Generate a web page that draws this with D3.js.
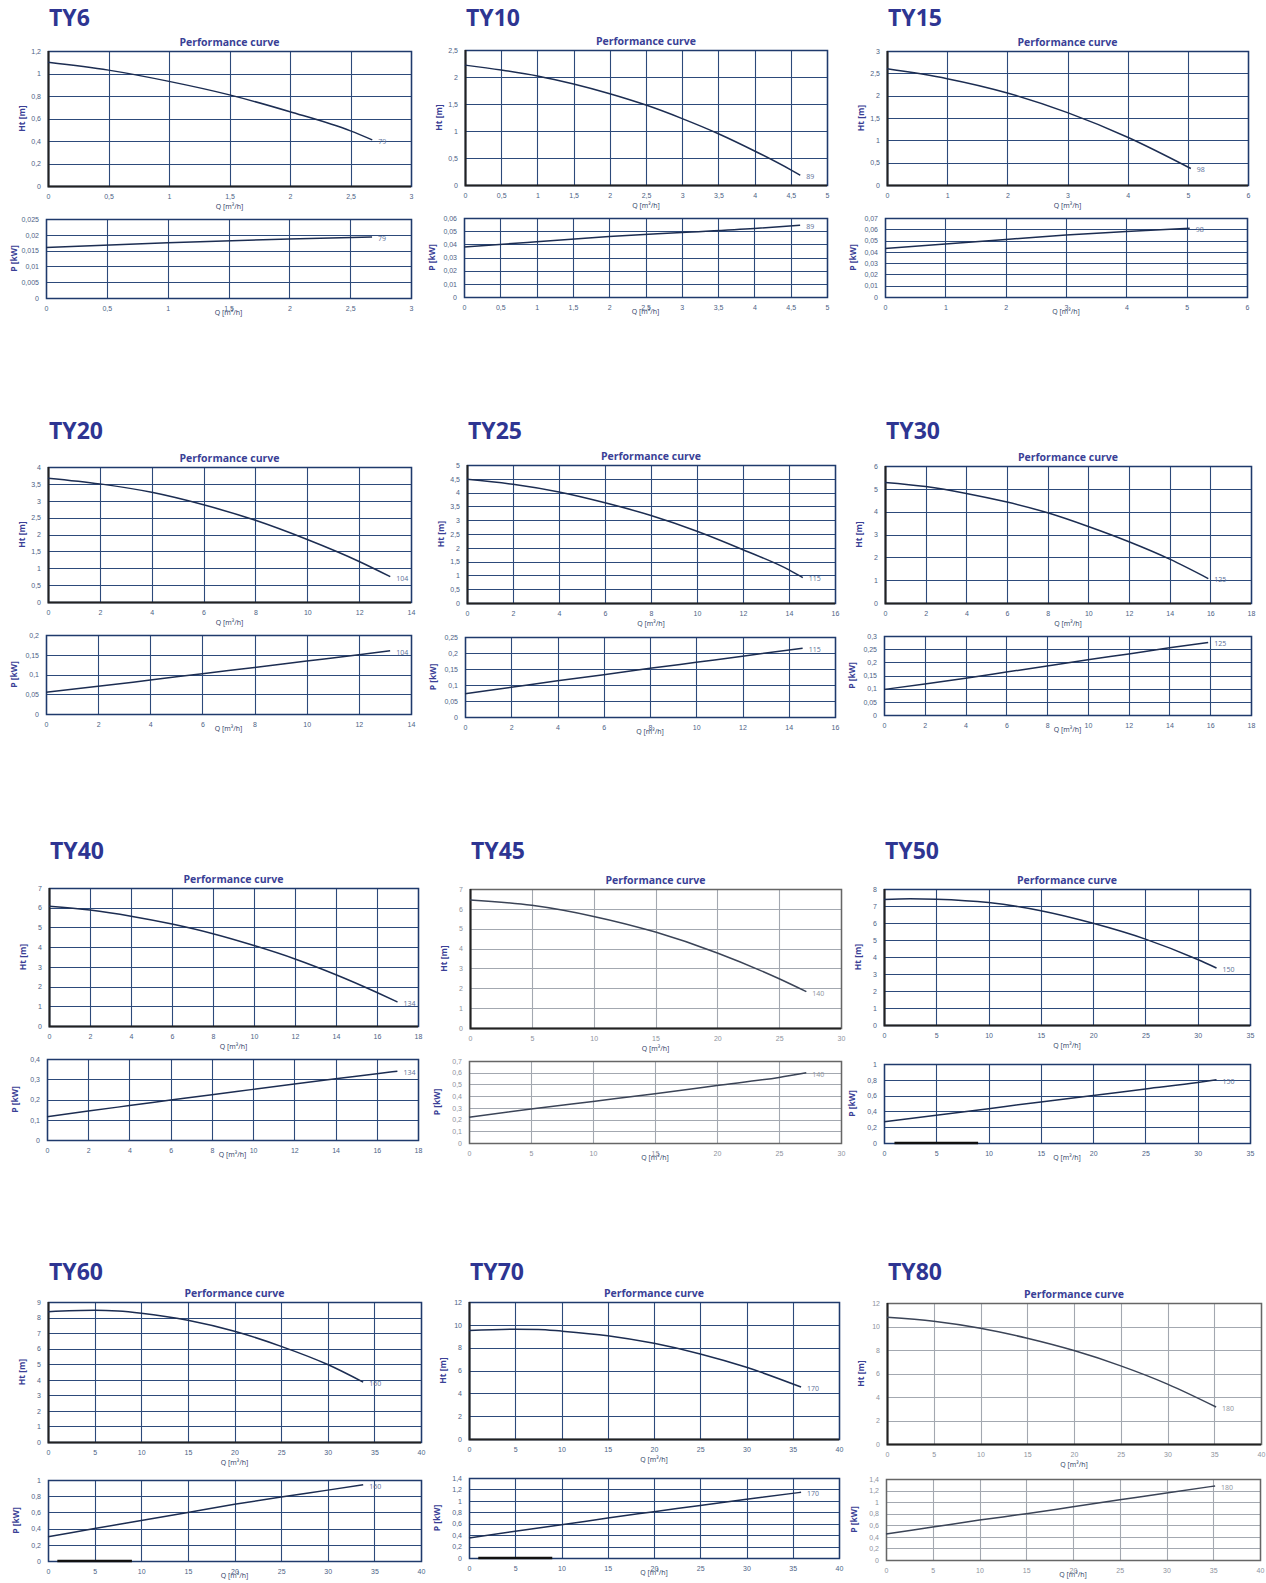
<!DOCTYPE html>
<meta charset="utf-8">
<style>
body { margin: 0; background: white; }
svg { display: block; font-family: "Open Sans", "DejaVu Sans", sans-serif; }
.model { font-size: 23px; font-weight: bold; fill: #2e3592; }
.ptitle { font-size: 10.5px; font-weight: bold; fill: #3a3f96; }
.ylab { font-size: 8.5px; font-weight: bold; fill: #3a3f96; }
.tick text { font-size: 7px; fill: #4d5f85; }
.grid line { stroke: #2d4a7a; stroke-width: 1.1px; }
.frame { fill: none; stroke: #1f3a6c; stroke-width: 1.5px; }
.curve { fill: none; stroke: #1c2d52; stroke-width: 1.5px; }
.endlab { font-size: 7px; fill: #5b6f98; }
.qlab { font-size: 7px; fill: #2b3a5f; }
.faded .grid line { stroke: #a3a8b0; }
.faded .frame { stroke: #666; }
.faded .tick text, .faded .endlab { fill: #8d929c; }
.faded .curve { stroke: #3b4457; }
</style>
<svg width="1266" height="1583"></svg>
<script src="https://d3js.org/d3.v7.min.js"></script>
<script>
// pump models and axis ranges
var models = ["TY6", "TY10", "TY15", "TY20", "TY25", "TY30", "TY40", "TY45", "TY50", "TY60", "TY70", "TY80"];
var qMax  = [3, 5, 6, 14, 16, 18, 18, 30, 35, 40, 40, 40];
var qStep = [0.5, 0.5, 1, 2, 2, 2, 2, 5, 5, 5, 5, 5];
var hMax  = [1.2, 2.5, 3, 4, 5, 6, 7, 7, 8, 9, 12, 12];
var hStep = [0.2, 0.5, 0.5, 0.5, 0.5, 1, 1, 1, 1, 1, 2, 2];
var pMax  = [0.025, 0.06, 0.07, 0.2, 0.25, 0.3, 0.4, 0.7, 1, 1, 1.4, 1.4];
var pStep = [0.005, 0.01, 0.01, 0.05, 0.05, 0.05, 0.1, 0.1, 0.2, 0.2, 0.2, 0.2];
var curveLabels = ["79", "89", "98", "104", "115", "125", "134", "140", "150", "160", "170", "180"];

// head curves [Q, Ht]
var headCurves = [
  [[0,1.1],[0.5,1.03],[1,0.93],[1.5,0.81],[2,0.66],[2.5,0.49],[2.68,0.41]],
  [[0,2.22],[0.5,2.13],[1,2.02],[1.5,1.87],[2,1.69],[2.5,1.48],[3,1.23],[3.5,0.95],[4,0.63],[4.5,0.28],[4.63,0.18]],
  [[0,2.6],[1,2.38],[2,2.06],[3,1.62],[4,1.07],[5.05,0.37]],
  [[0,3.67],[2,3.5],[4,3.25],[6,2.88],[8,2.42],[10,1.85],[12,1.2],[13.2,0.75]],
  [[0,4.48],[2,4.3],[4,4.02],[6,3.63],[8,3.17],[10,2.6],[12,1.93],[14,1.2],[14.6,0.92]],
  [[0,5.28],[2,5.1],[4,4.8],[6,4.42],[8,3.95],[10,3.35],[12,2.68],[14,1.92],[15.9,1.07]],
  [[0,6.08],[2,5.88],[4,5.57],[6,5.17],[8,4.68],[10,4.08],[12,3.4],[14,2.6],[16,1.7],[17,1.22]],
  [[0,6.45],[5,6.18],[10,5.62],[15,4.83],[20,3.78],[25,2.48],[27.2,1.83]],
  [[0,7.38],[2.5,7.43],[5,7.4],[10,7.2],[15,6.72],[20,5.98],[25,5.05],[30,3.85],[31.8,3.35]],
  [[0,8.38],[5,8.47],[7.5,8.42],[10,8.28],[15,7.83],[20,7.12],[25,6.15],[30,4.98],[33.8,3.85]],
  [[0,9.5],[5,9.62],[7.5,9.6],[10,9.45],[15,9.05],[20,8.38],[25,7.45],[30,6.28],[35.9,4.55]],
  [[0,10.78],[5,10.45],[10,9.85],[15,9.0],[20,7.95],[25,6.65],[30,5.1],[35.2,3.15]]
];

// power curves [Q, P]
var powerCurves = [
  [[0,0.016],[1,0.0175],[2,0.0187],[2.68,0.0193]],
  [[0,0.038],[1,0.042],[2,0.046],[3,0.049],[4,0.052],[4.63,0.0545]],
  [[0,0.043],[1,0.047],[2,0.051],[3,0.055],[4,0.058],[5.05,0.061]],
  [[0,0.055],[2,0.07],[4,0.086],[6,0.102],[8,0.118],[10,0.134],[12,0.15],[13.2,0.16]],
  [[0,0.073],[2,0.093],[4,0.113],[6,0.132],[8,0.152],[10,0.171],[12,0.19],[14.6,0.215]],
  [[0,0.097],[2,0.118],[4,0.14],[6,0.163],[8,0.186],[10,0.21],[12,0.232],[14,0.255],[15.9,0.275]],
  [[0,0.115],[2,0.143],[4,0.17],[6,0.197],[8,0.224],[10,0.25],[12,0.276],[14,0.302],[16,0.327],[17,0.34]],
  [[0,0.22],[5,0.29],[10,0.355],[15,0.42],[20,0.49],[25,0.56],[27.2,0.6]],
  [[0,0.27],[5,0.35],[10,0.435],[15,0.52],[20,0.6],[25,0.685],[30,0.765],[31.8,0.8]],
  [[0,0.3],[5,0.4],[10,0.5],[15,0.6],[20,0.7],[25,0.79],[30,0.875],[33.8,0.94]],
  [[0,0.35],[5,0.47],[10,0.58],[15,0.7],[20,0.81],[25,0.92],[30,1.03],[35.9,1.15]],
  [[0,0.45],[5,0.57],[10,0.69],[15,0.8],[20,0.92],[25,1.04],[30,1.16],[35.2,1.28]]
];

// stray dark bar on the power baseline (Q from, Q to)
var baseBars = [null, null, null, null, null, null, null, null, [1, 9], [1, 9], [1, 9], null];

// layout: [left, right, top, bottom] of head and power plots
var headBox = [
  [48,411,51,186], [465,827,50,185], [887,1248,51,185],
  [48,411,467,602], [467,835,465,603], [885,1251,466,603],
  [49,418,888,1026], [470,841,889,1028], [884,1250,889,1025],
  [48,421,1302,1442], [469,839,1302,1439], [887,1261,1303,1444]
];
var powerBox = [
  [46,411,219,298], [464,827,218,297], [885,1247,218,297],
  [46,411,635,714], [465,835,637,717], [884,1251,636,715],
  [47,418,1059,1140], [469,841,1061,1143], [884,1250,1064,1143],
  [48,421,1480,1561], [469,839,1478,1558], [886,1260,1479,1560]
];
var titleY = [26, 439, 859, 1280];
var faded = ["TY45", "TY80"];

var svg = d3.select("svg");
var fmt = function(d) { return String(d).replace(".", ","); };
var ticksFor = function(max, step) {
  return d3.range(0, Math.round(max / step) + 1).map(function(i) { return +(i * step).toFixed(4); });
};
var px = function(v) { return Math.round(v) + 0.5; };

function plot(g, box, xm, xs, ym, ys, pts, lab, yTitle, isHead, bar) {
  var x = d3.scaleLinear().domain([0, xm]).range([box[0], box[1]]);
  var y = d3.scaleLinear().domain([0, ym]).range([box[3], box[2]]);
  var xt = ticksFor(xm, xs), yt = ticksFor(ym, ys);

  var grid = g.append("g").attr("class", "grid");
  grid.selectAll(".gx").data(xt).enter().append("line")
      .attr("x1", function(d) { return px(x(d)); }).attr("x2", function(d) { return px(x(d)); })
      .attr("y1", box[2]).attr("y2", box[3]);
  grid.selectAll(".gy").data(yt).enter().append("line")
      .attr("y1", function(d) { return px(y(d)); }).attr("y2", function(d) { return px(y(d)); })
      .attr("x1", box[0]).attr("x2", box[1]);

  g.append("rect").attr("class", "frame")
      .attr("x", box[0] + 0.5).attr("y", box[2] + 0.5)
      .attr("width", box[1] - box[0]).attr("height", box[3] - box[2]);

  if (isHead) {
    g.append("path")
        .attr("d", "M" + (box[0] + 0.5) + "," + box[2] + "V" + (box[3] + 0.5) + "H" + box[1])
        .attr("fill", "none").attr("stroke", "#222").attr("stroke-width", 2);
  }
  if (bar) {
    g.append("line").attr("x1", x(bar[0])).attr("x2", x(bar[1]))
        .attr("y1", y(0)).attr("y2", y(0))
        .attr("stroke", "#111").attr("stroke-width", 2.5);
  }

  g.append("g").attr("transform", "translate(0," + box[3] + ")")
      .call(d3.axisBottom(x).tickValues(xt).tickSize(0).tickPadding(8).tickFormat(fmt))
      .call(function(s) { s.select(".domain").remove(); });
  g.append("g").attr("transform", "translate(" + box[0] + ",0)")
      .call(d3.axisLeft(y).tickValues(yt).tickSize(0).tickPadding(7).tickFormat(fmt))
      .call(function(s) { s.select(".domain").remove(); });
  g.selectAll(".tick text").attr("font-family", null).attr("font-size", null);

  var line = d3.line().x(function(d) { return x(d[0]); }).y(function(d) { return y(d[1]); })
      .curve(d3.curveMonotoneX);
  g.append("path").datum(pts).attr("class", "curve").attr("d", line);

  var last = pts[pts.length - 1];
  g.append("text").attr("class", "endlab")
      .attr("x", x(last[0]) + 6).attr("y", y(last[1]) + 2)
      .attr("dominant-baseline", "middle").text(lab);

  var cx = (box[0] + box[1]) / 2, cy = (box[2] + box[3]) / 2;
  g.append("text").attr("class", "qlab").attr("text-anchor", "middle")
      .attr("x", cx).attr("y", box[3] + (isHead ? 23 : 17))
      .text("Q [m³/h]");
  g.append("text").attr("class", "ylab").attr("text-anchor", "middle")
      .attr("transform", "translate(" + (box[0] - (isHead ? 23 : 29)) + "," + cy + ") rotate(-90)")
      .text(yTitle);
}

models.forEach(function(m, i) {
  var g = svg.append("g").attr("class", faded.indexOf(m) >= 0 ? "faded" : null);
  var hb = headBox[i], pb = powerBox[i];

  g.append("text").attr("class", "model")
      .attr("x", hb[0] + 1).attr("y", titleY[Math.floor(i / 3)]).text(m);
  g.append("text").attr("class", "ptitle").attr("text-anchor", "middle")
      .attr("x", (hb[0] + hb[1]) / 2).attr("y", hb[2] - 5).text("Performance curve");

  plot(g, hb, qMax[i], qStep[i], hMax[i], hStep[i], headCurves[i], curveLabels[i], "Ht [m]", true, null);
  plot(g, pb, qMax[i], qStep[i], pMax[i], pStep[i], powerCurves[i], curveLabels[i], "P [kW]", false, baseBars[i]);
});
</script>
